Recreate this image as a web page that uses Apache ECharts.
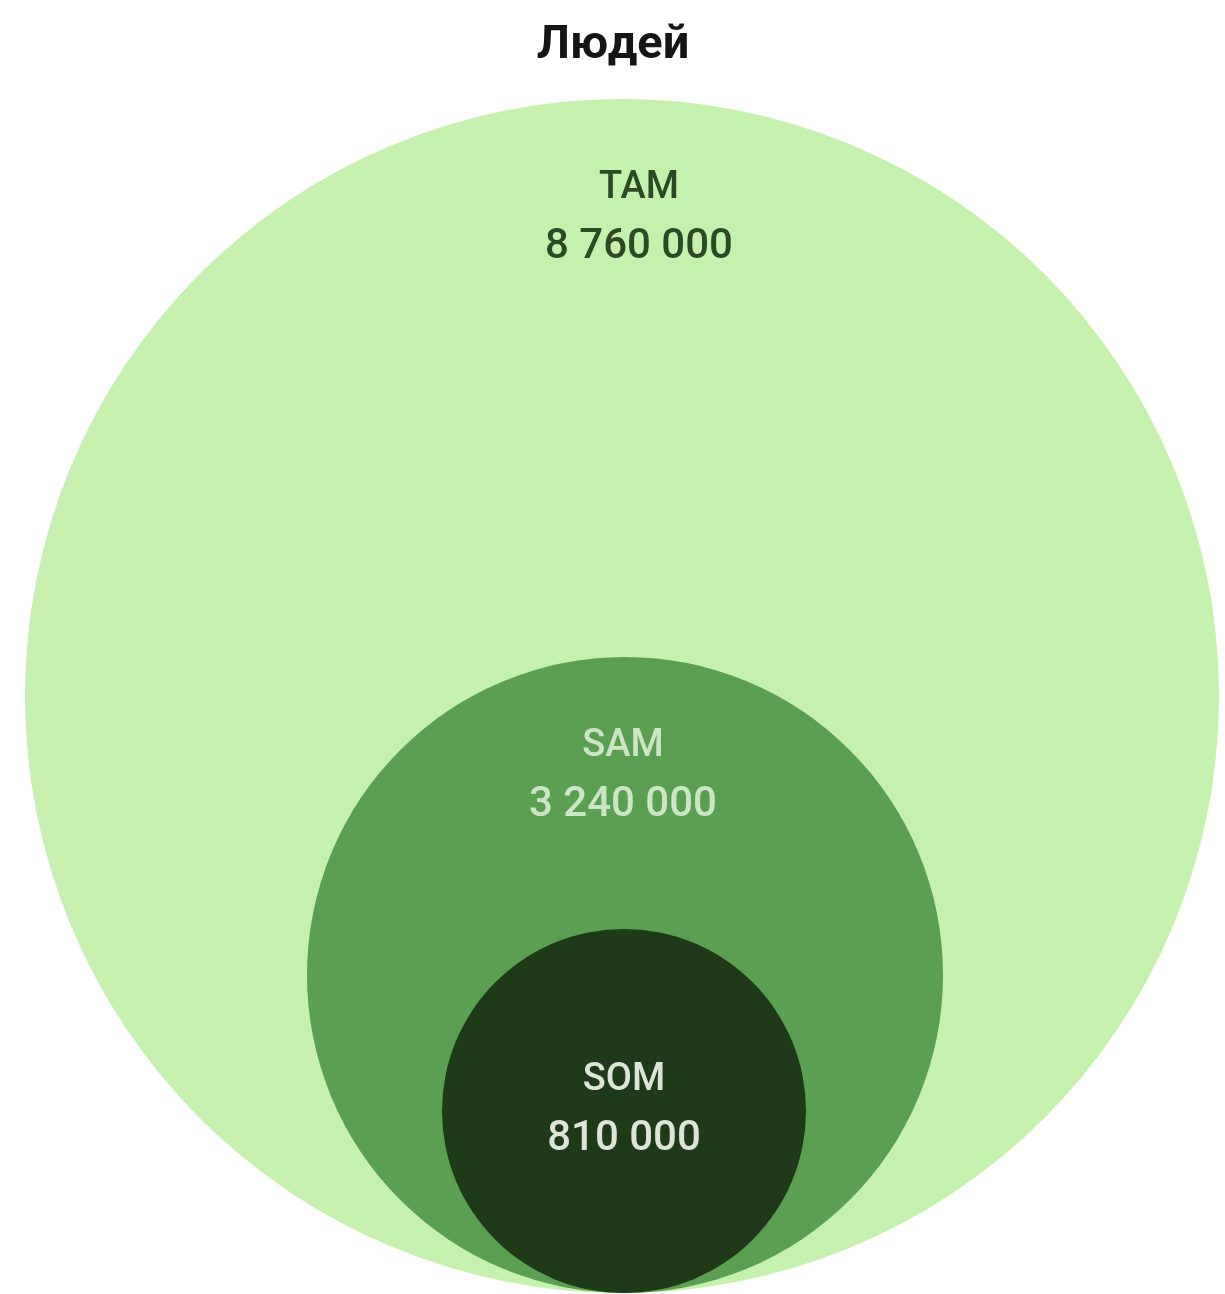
<!DOCTYPE html>
<html><head><meta charset="utf-8">
<script src="https://cdn.jsdelivr.net/npm/echarts@6/dist/echarts.min.js"></script>
<style>html,body{margin:0;padding:0;background:#fff}#c{width:1225px;height:1294px}</style>
</head><body><div id="c"></div>
<script>
// Data
var title = 'Людей';
var names = ['TAM', 'SAM', 'SOM'];
var values = [8760000, 3240000, 810000];
// circle radii (chart units), circles share a common bottom
var radii = [597, 318, 182];
var centerX = [0, 3, 2];

var colors = ['#c5f0ad', '#5b9f52', '#1f3a19'];
var textColors = ['#2c4a26', '#cde5c6', '#dbe6d7'];
var labelShiftX = [17, -2, 0];

function fmt(v) { return String(v).replace(/\B(?=(\d{3})+(?!\d))/g, ' '); }

var data = names.map(function (n, i) { return [centerX[i], radii[i], radii[i], values[i], i]; });

var chart = echarts.init(document.getElementById('c'), null, { renderer: 'canvas' });
chart.setOption({
  backgroundColor: '#ffffff',
  animation: false,
  title: {
    text: title, left: 608, top: 18, textAlign: 'center',
    textStyle: { fontFamily: 'Roboto', fontWeight: 'bold', fontSize: 47, color: '#151515' }
  },
  grid: { left: 0, right: 0, top: 0, bottom: 0 },
  xAxis: { type: 'value', min: -622, max: 603, show: false },
  yAxis: { type: 'value', min: -1, max: 1293, show: false },
  series: [{
    type: 'custom',
    data: data,
    encode: { x: 0, y: 1 },
    renderItem: function (params, api) {
      var i = api.value(4);
      var c = api.coord([api.value(0), api.value(1)]);
      var r = api.size([api.value(2), 0])[0];
      var inner = i === names.length - 1;
      var ty = inner ? c[1] - 2 : c[1] - r + 118;
      var tx = c[0] + labelShiftX[i];
      return {
        type: 'group',
        children: [
          { type: 'circle', shape: { cx: c[0], cy: c[1], r: r }, style: { fill: colors[i] } },
          { type: 'text', x: tx, y: ty - 29, style: { text: names[i], fill: textColors[i], font: '500 38px Roboto', align: 'center', verticalAlign: 'middle' } },
          { type: 'text', x: tx, y: ty + 30, style: { text: fmt(api.value(3)), fill: textColors[i], font: '500 42px Roboto', align: 'center', verticalAlign: 'middle' } }
        ]
      };
    }
  }]
});
</script></body></html>
